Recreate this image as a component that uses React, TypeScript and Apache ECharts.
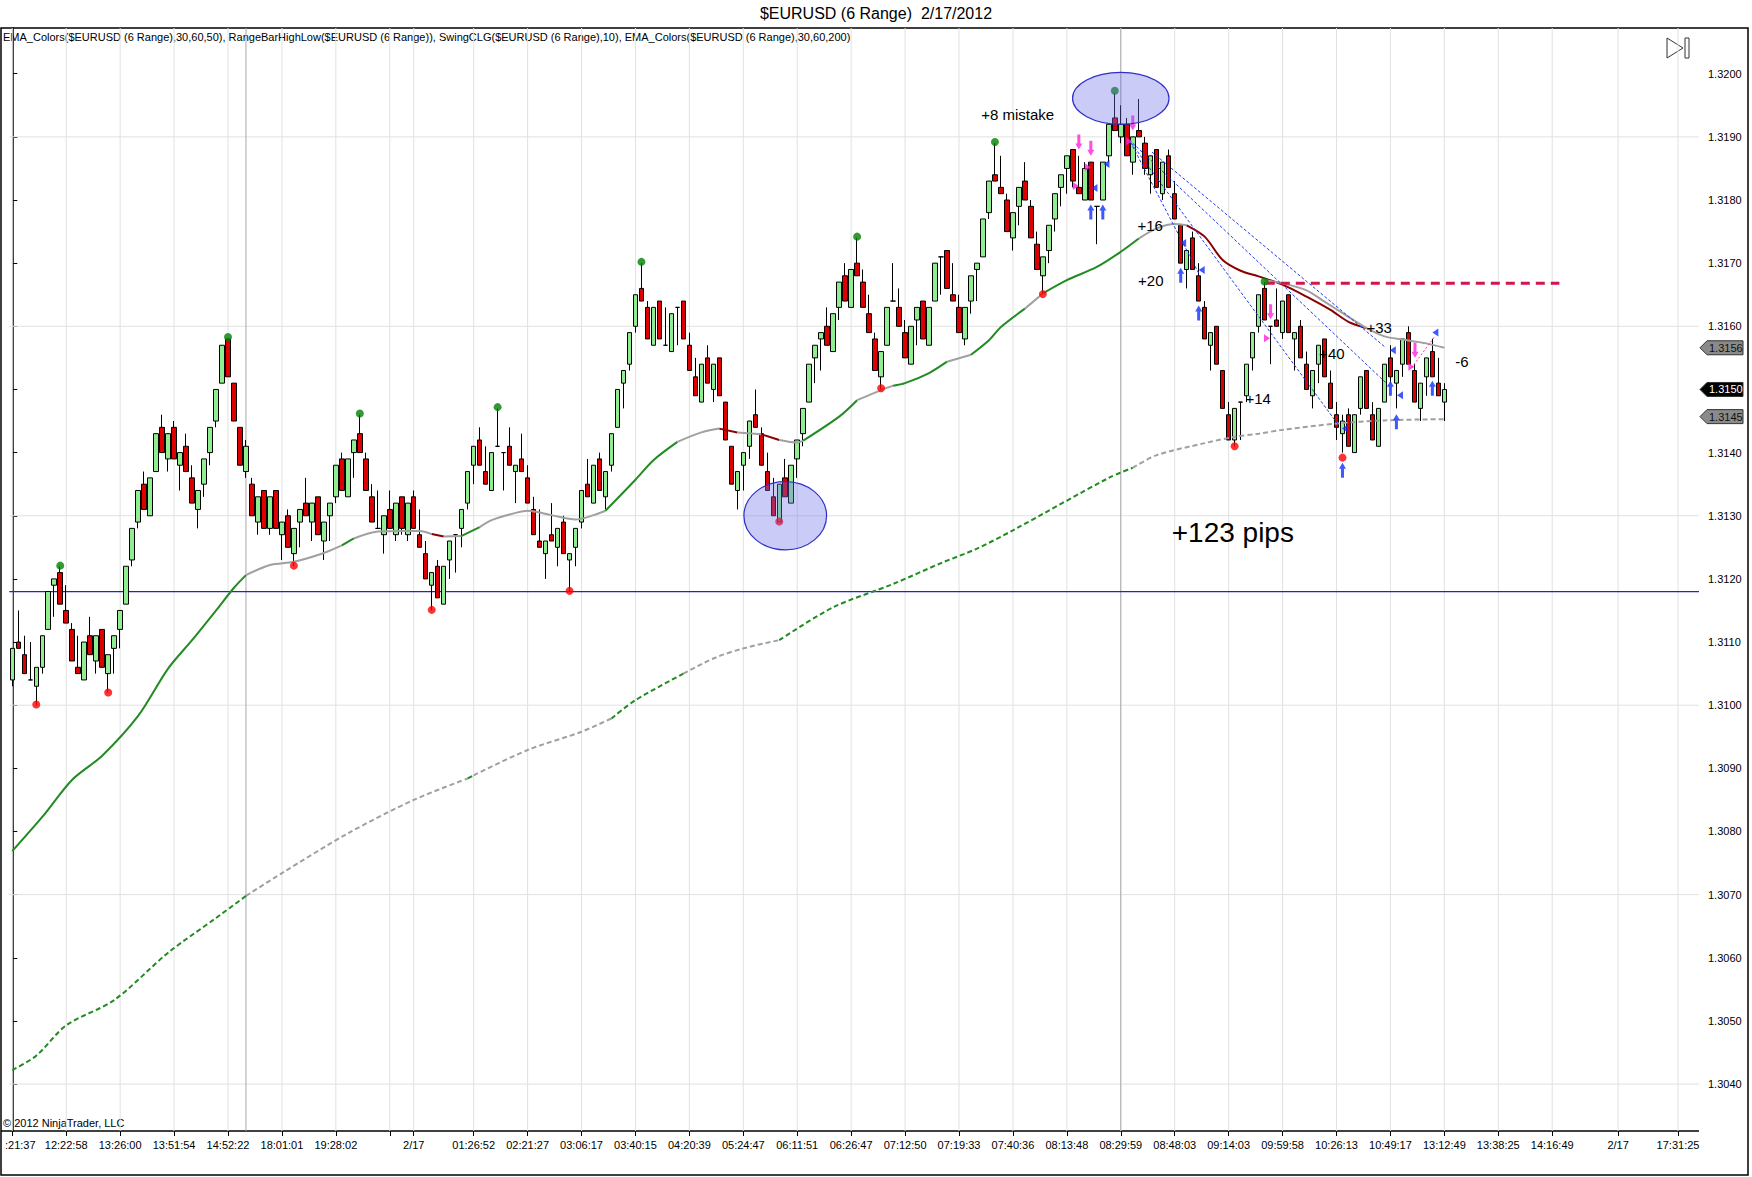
import React, { useEffect, useRef } from "react";
import * as echarts from "echarts";

// ---------- candles (range bars) ----------
const openP = [
1.3104,1.3110,1.3108,1.3104,1.3103,1.3106,1.3112,1.3119,1.3121,1.3115,
1.3112,1.3106,1.3104,1.3111,1.3107,1.3112,1.3105,1.3109,1.3112,1.3116,
1.3123,1.3129,1.3135,1.3130,1.3137,1.3144,1.3139,1.3144,1.3138,1.3141,
1.3136,1.3131,1.3135,1.3140,1.3145,1.3151,1.3158,1.3151,1.3144,1.3137,
1.3135,1.3129,1.3134,1.3128,1.3134,1.3127,1.3130,1.3124,1.3129,1.3132,
1.3129,1.3133,1.3126,1.3130,1.3133,1.3139,1.3133,1.3140,1.3143,1.3139,
1.3133,1.3128,1.3127,1.3131,1.3127,1.3133,1.3127,1.3133,1.3127,1.3124,
1.3119,1.3122,1.3116,1.3123,1.3127,1.3128,1.3132,1.3138,1.3142,1.3137,
1.3134,1.3141,1.3140,1.3141,1.3137,1.3139,1.3136,1.3131,1.3126,1.3124,
1.3127,1.3125,1.3129,1.3123,1.3125,1.3129,1.3135,1.3132,1.3139,1.3133,
1.3138,1.3144,1.3151,1.3154,1.3160,1.3166,1.3163,1.3157,1.3164,1.3157,
1.3156,1.3163,1.3164,1.3157,1.3152,1.3148,1.3155,1.3150,1.3155,1.3148,
1.3141,1.3134,1.3138,1.3141,1.3146,1.3143,1.3137,1.3133,1.3129,1.3136,
1.3132,1.3139,1.3143,1.3148,1.3155,1.3158,1.3160,1.3156,1.3163,1.3168,
1.3163,1.3170,1.3167,1.3162,1.3158,1.3152,1.3157,1.3164,1.3163,1.3159,
1.3154,1.3161,1.3164,1.3157,1.3164,1.3171,1.3172,1.3165,1.3163,1.3158,
1.3164,1.3169,1.3171,1.3178,1.3184,1.3182,1.3180,1.3174,1.3179,1.3183,
1.3179,1.3173,1.3168,1.3172,1.3177,1.3182,1.3185,1.3188,1.3182,1.3180,
1.3186,1.3179,1.3180,1.3187,1.3193,1.3190,1.3192,1.3186,1.3191,1.3189,
1.3184,1.3188,1.3181,1.3187,1.3181,1.3176,1.3169,1.3174,1.3168,1.3163,
1.3157,1.3160,1.3153,1.3146,1.3142,1.3148,1.3149,1.3155,1.3160,1.3166,
1.3160,1.3161,1.3159,1.3165,1.3158,1.3160,1.3154,1.3149,1.3154,1.3158,
1.3151,1.3146,1.3143,1.3146,1.3140,1.3147,1.3153,1.3146,1.3141,1.3148,
1.3155,1.3151,1.3154,1.3159,1.3153,1.3147,1.3152,1.3156,1.3151,1.3148];

const highP = [
1.3109,1.3115,1.3111,1.3110,1.3106,1.3111,1.3118,1.3120,1.3122,1.3119,
1.3113,1.3111,1.3110,1.3114,1.3111,1.3112,1.3108,1.3111,1.3115,1.3122,
1.3128,1.3134,1.3137,1.3136,1.3143,1.3146,1.3143,1.3145,1.3140,1.3143,
1.3138,1.3134,1.3139,1.3144,1.3150,1.3157,1.3158,1.3151,1.3144,1.3142,
1.3136,1.3133,1.3134,1.3133,1.3134,1.3129,1.3131,1.3128,1.3131,1.3136,
1.3132,1.3133,1.3129,1.3132,1.3138,1.3140,1.3139,1.3142,1.3146,1.3140,
1.3135,1.3134,1.3130,1.3134,1.3132,1.3133,1.3132,1.3134,1.3131,1.3126,
1.3121,1.3123,1.3122,1.3126,1.3127,1.3131,1.3137,1.3141,1.3144,1.3141,
1.3140,1.3147,1.3140,1.3144,1.3138,1.3143,1.3138,1.3133,1.3131,1.3126,
1.3132,1.3128,1.3130,1.3124,1.3128,1.3134,1.3139,1.3138,1.3140,1.3137,
1.3143,1.3150,1.3153,1.3159,1.3165,1.3170,1.3164,1.3163,1.3164,1.3163,
1.3162,1.3163,1.3164,1.3159,1.3155,1.3154,1.3157,1.3154,1.3155,1.3148,
1.3141,1.3137,1.3140,1.3145,1.3150,1.3144,1.3140,1.3136,1.3135,1.3139,
1.3138,1.3142,1.3147,1.3154,1.3157,1.3159,1.3163,1.3162,1.3167,1.3170,
1.3169,1.3174,1.3169,1.3165,1.3159,1.3156,1.3163,1.3170,1.3166,1.3161,
1.3160,1.3163,1.3164,1.3163,1.3170,1.3171,1.3172,1.3170,1.3165,1.3163,
1.3168,1.3170,1.3177,1.3183,1.3189,1.3187,1.3181,1.3178,1.3182,1.3186,
1.3180,1.3175,1.3171,1.3176,1.3181,1.3184,1.3187,1.3188,1.3187,1.3186,
1.3186,1.3179,1.3186,1.3192,1.3197,1.3195,1.3193,1.3190,1.3196,1.3190,
1.3187,1.3188,1.3186,1.3188,1.3183,1.3176,1.3172,1.3175,1.3170,1.3164,
1.3159,1.3160,1.3153,1.3148,1.3147,1.3148,1.3154,1.3159,1.3165,1.3167,
1.3160,1.3166,1.3164,1.3165,1.3159,1.3161,1.3156,1.3153,1.3157,1.3158,
1.3153,1.3148,1.3146,1.3147,1.3146,1.3152,1.3153,1.3148,1.3147,1.3154,
1.3157,1.3153,1.3158,1.3160,1.3154,1.3151,1.3155,1.3158,1.3155,1.3151];

const lowP = [
1.3103,1.3109,1.3105,1.3104,1.3100,1.3105,1.3112,1.3114,1.3116,1.3113,
1.3107,1.3105,1.3104,1.3108,1.3105,1.3106,1.3102,1.3105,1.3109,1.3116,
1.3122,1.3128,1.3131,1.3130,1.3137,1.3140,1.3137,1.3139,1.3134,1.3137,
1.3132,1.3128,1.3133,1.3138,1.3144,1.3151,1.3152,1.3145,1.3138,1.3136,
1.3130,1.3127,1.3128,1.3127,1.3128,1.3123,1.3125,1.3122,1.3125,1.3130,
1.3126,1.3127,1.3123,1.3126,1.3132,1.3134,1.3133,1.3136,1.3140,1.3134,
1.3129,1.3128,1.3124,1.3128,1.3126,1.3127,1.3126,1.3128,1.3125,1.3120,
1.3115,1.3117,1.3116,1.3120,1.3121,1.3125,1.3131,1.3135,1.3138,1.3135,
1.3134,1.3141,1.3134,1.3138,1.3132,1.3137,1.3132,1.3127,1.3125,1.3120,
1.3126,1.3122,1.3124,1.3118,1.3122,1.3128,1.3133,1.3132,1.3134,1.3131,
1.3137,1.3144,1.3147,1.3153,1.3159,1.3164,1.3158,1.3157,1.3158,1.3157,
1.3156,1.3157,1.3158,1.3153,1.3149,1.3148,1.3151,1.3148,1.3149,1.3142,
1.3135,1.3131,1.3134,1.3139,1.3144,1.3138,1.3134,1.3130,1.3129,1.3133,
1.3132,1.3136,1.3141,1.3148,1.3151,1.3153,1.3157,1.3156,1.3161,1.3164,
1.3163,1.3168,1.3163,1.3159,1.3153,1.3150,1.3157,1.3164,1.3160,1.3155,
1.3154,1.3157,1.3158,1.3157,1.3164,1.3165,1.3166,1.3164,1.3159,1.3157,
1.3162,1.3164,1.3171,1.3177,1.3183,1.3181,1.3175,1.3172,1.3176,1.3180,
1.3174,1.3169,1.3165,1.3170,1.3175,1.3179,1.3181,1.3182,1.3181,1.3180,
1.3180,1.3173,1.3180,1.3186,1.3191,1.3189,1.3187,1.3184,1.3190,1.3184,
1.3181,1.3182,1.3180,1.3182,1.3177,1.3170,1.3166,1.3169,1.3164,1.3158,
1.3153,1.3154,1.3147,1.3142,1.3141,1.3142,1.3148,1.3153,1.3159,1.3161,
1.3154,1.3160,1.3158,1.3159,1.3153,1.3155,1.3150,1.3147,1.3151,1.3152,
1.3147,1.3142,1.3140,1.3141,1.3140,1.3146,1.3147,1.3142,1.3141,1.3148,
1.3151,1.3147,1.3152,1.3154,1.3148,1.3145,1.3149,1.3152,1.3149,1.3145];

const closeP = [
1.3109,1.3109,1.3105,1.3104,1.3106,1.3111,1.3118,1.3120,1.3116,1.3113,
1.3107,1.3105,1.3110,1.3108,1.3111,1.3106,1.3108,1.3111,1.3115,1.3122,
1.3128,1.3134,1.3131,1.3136,1.3143,1.3140,1.3143,1.3139,1.3140,1.3137,
1.3132,1.3134,1.3139,1.3144,1.3150,1.3157,1.3152,1.3145,1.3138,1.3141,
1.3130,1.3133,1.3128,1.3133,1.3128,1.3129,1.3125,1.3128,1.3131,1.3130,
1.3132,1.3127,1.3129,1.3132,1.3138,1.3134,1.3139,1.3142,1.3140,1.3134,
1.3129,1.3128,1.3130,1.3128,1.3132,1.3128,1.3132,1.3128,1.3125,1.3120,
1.3121,1.3117,1.3122,1.3126,1.3127,1.3131,1.3137,1.3141,1.3138,1.3135,
1.3140,1.3141,1.3140,1.3138,1.3138,1.3137,1.3132,1.3127,1.3125,1.3126,
1.3126,1.3128,1.3124,1.3124,1.3128,1.3134,1.3133,1.3138,1.3134,1.3137,
1.3143,1.3150,1.3153,1.3159,1.3165,1.3164,1.3158,1.3163,1.3158,1.3157,
1.3162,1.3163,1.3158,1.3153,1.3149,1.3154,1.3151,1.3154,1.3149,1.3142,
1.3135,1.3137,1.3140,1.3145,1.3144,1.3138,1.3134,1.3130,1.3135,1.3133,
1.3138,1.3142,1.3147,1.3154,1.3157,1.3159,1.3157,1.3162,1.3167,1.3164,
1.3169,1.3168,1.3163,1.3159,1.3153,1.3156,1.3163,1.3164,1.3160,1.3155,
1.3160,1.3163,1.3158,1.3163,1.3170,1.3171,1.3166,1.3164,1.3159,1.3163,
1.3168,1.3170,1.3177,1.3183,1.3183,1.3181,1.3175,1.3178,1.3182,1.3180,
1.3174,1.3169,1.3171,1.3176,1.3181,1.3184,1.3187,1.3183,1.3181,1.3185,
1.3180,1.3179,1.3186,1.3192,1.3191,1.3192,1.3187,1.3190,1.3190,1.3185,
1.3187,1.3182,1.3186,1.3182,1.3177,1.3170,1.3172,1.3169,1.3164,1.3158,
1.3159,1.3154,1.3147,1.3142,1.3147,1.3148,1.3154,1.3159,1.3165,1.3161,
1.3160,1.3160,1.3164,1.3159,1.3159,1.3155,1.3150,1.3153,1.3157,1.3152,
1.3147,1.3144,1.3145,1.3141,1.3146,1.3152,1.3147,1.3142,1.3147,1.3154,
1.3152,1.3153,1.3158,1.3154,1.3148,1.3151,1.3155,1.3152,1.3149,1.3150];

// ---------- time axis ----------
const SLOTS = 282; // bar slots visible on the time axis (incl. empty right margin)
const tickBars = [1,10,19,28,37,46,55,64,68,78,87,96,105,114,123,132,141,150,159,168,177,186,195,204,213,222,231,240,249,258,269,279];
const tickLabels = [":21:37","12:22:58","13:26:00","13:51:54","14:52:22","18:01:01","19:28:02","","2/17","01:26:52","02:21:27","03:06:17","03:40:15","04:20:39","05:24:47","06:11:51","06:26:47","07:12:50","07:19:33","07:40:36","08:13:48","08:29:59","08:48:03","09:14:03","09:59:58","10:26:13","10:49:17","13:12:49","13:38:25","14:16:49","2/17","17:31:25"];
const sessionLineBars = [40, 186];

// ---------- price axis ----------
const yMin = 1.303257;
const yMax = 1.320724;
const priceTicks = [1.304,1.305,1.306,1.307,1.308,1.309,1.31,1.311,1.312,1.313,1.314,1.315,1.316,1.317,1.318,1.319,1.32];
const priceGrid = [1.304,1.307,1.31,1.313,1.316,1.319];

// ---------- EMA 50 (solid, colour-coded: g rising, y flat, r falling) ----------
const ema50Bars = [1,6,11,16,22,27,31,35,38,40,44,48,53,56,58,62,66,69,71,73,76,79,81,84,87,91,95,98,100,105,108,112,116,119,122,126,129,132,133,139,142,146,148,150,154,157,161,164,166,170,173,177,182,186,189,192,195,197,200,203,206,209,213,217,221,224,227,230,233,237,240];
const ema50Vals = [1.30769,1.30823,1.30882,1.30920,1.30983,1.31058,1.31103,1.31150,1.31186,1.31206,1.31222,1.31227,1.31241,1.31253,1.31264,1.31275,1.31276,1.31276,1.31271,1.31267,1.31268,1.31282,1.31293,1.31302,1.31308,1.31301,1.31294,1.31301,1.31308,1.31357,1.31388,1.31417,1.31432,1.31438,1.31432,1.31429,1.31420,1.31416,1.31419,1.31457,1.31483,1.31499,1.31506,1.31510,1.31526,1.31544,1.31555,1.31578,1.31599,1.31628,1.31652,1.31673,1.31694,1.31718,1.31739,1.31755,1.31762,1.31760,1.31742,1.31705,1.31688,1.31679,1.31666,1.31647,1.31626,1.31607,1.31597,1.31584,1.31579,1.31573,1.31566];
const ema50CodeList = "gggggggggy" + "yyygyyyyry" + "gyyyyyyygg" + "gyyryryygg" + "yygggygggy" + "ggggyyyrrr" + "rrrrrryyyy" + "y";

// ---------- EMA 200 (dashed, colour-coded) ----------
const ema200Bars = [1,5,10,18,27,35,40,46,57,68,77,78,87,96,101,105,113,118,123,129,138,148,156,162,168,184,188,192,200,205,209,213,222,230,240];
const ema200Vals = [1.30422,1.30445,1.30493,1.30533,1.30608,1.30663,1.30698,1.30734,1.30797,1.30850,1.30884,1.30889,1.30929,1.30958,1.30979,1.31008,1.31050,1.31074,1.31090,1.31103,1.31155,1.31192,1.31225,1.31248,1.31277,1.31360,1.31376,1.31396,1.31415,1.31425,1.31430,1.31436,1.31446,1.31451,1.31453];
const ema200CodeList = "gggggg" + "yyyy" + "g" + "yyy" + "gg" + "yyy" + "gggggg" + "g" + "yyyyyyyyy";

// second grey curve from the last swing high
const greyCurveBars = [210,213,217,220,224,227];
const greyCurveVals = [1.31673,1.31668,1.31657,1.31639,1.31615,1.31597];

// ---------- drawn objects ----------
const supportLevel = 1.3118;
const resistBars = [210.2, 259.2];
const resistLevel = 1.31668;
const trendStartBars = [187.6, 187.3, 188.0, 191.2];
const trendStartVals = [1.31892, 1.31896, 1.31890, 1.31876];
const trendEndBars = [199.0, 222.3, 230.3, 230.0];
const trendEndVals = [1.31684, 1.31444, 1.31510, 1.31568];
const pinkLineBars = [234.5, 238.4];
const pinkLineVals = [1.31534, 1.31584];

const ellipseBars = [130, 186];
const ellipseVals = [1.31300, 1.31961];
const ellipseHalfBars = [6.9, 8.05];
const ellipseHalfPrice = [0.00054, 0.00041];

// swing points
const swingHighBars = [9,37,59,82,106,142,165,185,210];
const swingHighVals = [1.31221,1.31583,1.31462,1.31472,1.31702,1.31742,1.31892,1.31973,1.31671];
const swingLowBars = [5,17,48,71,94,129,146,173,205,223];
const swingLowVals = [1.31001,1.31020,1.31221,1.31151,1.31181,1.31291,1.31502,1.31651,1.31410,1.31392];

// signal arrows / markers
const upArrowBars = [181,183,196,199,223,231,232,238];
const upArrowVals = [1.31781,1.31781,1.31681,1.31621,1.31372,1.31502,1.31449,1.31502];
const downArrowBars = [179,181,188,211,235.1];
const downArrowVals = [1.31892,1.31882,1.31922,1.31623,1.31562];
const rightTriBars = [178.5,180.5,187.4,210.4,234.5];
const rightTriVals = [1.31822,1.31852,1.31893,1.31581,1.31536];
const leftTriBars = [181.6,183.6,196.4,199.5,223.4,231.4,232.6,238.5];
const leftTriVals = [1.31819,1.31857,1.31732,1.31689,1.31438,1.31562,1.31491,1.31590];

// text annotations
const annTexts = ["+8 mistake","+16","+20","+14","+40","+33","-6","+123 pips"];
const annBars = [168.8,190.9,191.0,206.8,219.1,227.0,241.8,204.7];
const annVals = [1.31936,1.31760,1.31672,1.31486,1.31557,1.31598,1.31544,1.31273];
const annAlign = ["center","center","center","left","left","left","left","center"];
const annSize = [15,15,15,15,15,15,15,28];

// price badges on the axis
const badgeVals = [1.31566, 1.3150, 1.31457];
const badgeTexts = ["1.3156", "1.3150", "1.3145"];
const badgeFill = ["#8a8a8a", "#000000", "#8a8a8a"];
const badgeInk = ["#111111", "#ffffff", "#111111"];

const FONT = '"Liberation Sans", Arial, Helvetica, sans-serif';
const COLORS: Record<string, string> = { g: "#228b22", y: "#a0a0a0", r: "#8b0000" };

function segments(bars: number[], vals: number[], codes: string) {
  const out: { code: string; pts: number[][] }[] = [];
  let cur: { code: string; pts: number[][] } | null = null;
  for (let i = 0; i < bars.length - 1; i++) {
    const c = codes[i];
    if (!cur || cur.code !== c) {
      cur = { code: c, pts: [[bars[i] - 1, vals[i]]] };
      out.push(cur);
    }
    cur.pts.push([bars[i + 1] - 1, vals[i + 1]]);
  }
  return out;
}

function line(data: number[][], color: string, width: number, type: any, z: number, smooth: any = false) {
  return {
    type: "line", xAxisIndex: 1, yAxisIndex: 0, data, symbol: "none", smooth, silent: true,
    lineStyle: { color, width, type }, z, animation: false,
  };
}

function buildOption() {
  const tickIdx = new Set(tickBars.map((b) => b - 1));
  const labelMap = new Map<number, string>();
  tickBars.forEach((b, i) => { if (tickLabels[i]) labelMap.set(b - 1, tickLabels[i]); });
  const cats = Array.from({ length: SLOTS }, (_, i) => String(i));
  const xLo = -0.5, xHi = SLOTS - 0.5;

  const series: any[] = [];
  // grid lines
  priceGrid.forEach((v) => series.push(line([[xLo, v], [xHi, v]], "#e1e1e1", 1, "solid", 0)));
  tickBars.forEach((b) => series.push(line([[b - 1, yMin], [b - 1, yMax]], "#e1e1e1", 1, "solid", 0)));
  sessionLineBars.forEach((b) => series.push(line([[b - 1, yMin], [b - 1, yMax]], "#a9a9a9", 1, "solid", 0)));
  // support line
  series.push(line([[xLo, supportLevel], [xHi, supportLevel]], "#2323c8", 1.2, "solid", 1));

  // candles
  series.push({
    type: "candlestick", xAxisIndex: 0, yAxisIndex: 0, barWidth: 5, z: 2, silent: true,
    data: openP.map((o, i) => [o, closeP[i], lowP[i], highP[i]]),
    itemStyle: { color: "#90ee90", color0: "#dc0000", borderColor: "#000", borderColor0: "#000", borderColorDoji: "#000", borderWidth: 1 },
  });

  // EMAs
  segments(ema200Bars, ema200Vals, ema200CodeList).forEach((s) =>
    series.push(line(s.pts, COLORS[s.code], 2, [5, 3], 3, 0.3)));
  segments(ema50Bars, ema50Vals, ema50CodeList).forEach((s) =>
    series.push(line(s.pts, COLORS[s.code], 2, "solid", 3, 0.3)));
  series.push(line(greyCurveBars.map((b, i) => [b - 1, greyCurveVals[i]]), "#a0a0a0", 2, "solid", 3, 0.3));

  // trend lines
  trendStartBars.forEach((b, i) =>
    series.push(line([[b - 1, trendStartVals[i]], [trendEndBars[i] - 1, trendEndVals[i]]], "#2438f0", 1, [3, 2], 4)));
  series.push(line(pinkLineBars.map((b, i) => [b - 1, pinkLineVals[i]]), "#ff3399", 1, [2, 2], 4));
  series.push(line(resistBars.map((b) => [b - 1, resistLevel]), "#d3154d", 3, [9, 6], 4));

  // swing dots
  series.push({
    type: "scatter", xAxisIndex: 1, yAxisIndex: 0, symbol: "circle", symbolSize: 8, z: 5, silent: true,
    itemStyle: { color: "#008000" }, data: swingHighBars.map((b, i) => [b - 1, swingHighVals[i]]),
  });
  series.push({
    type: "scatter", xAxisIndex: 1, yAxisIndex: 0, symbol: "circle", symbolSize: 8, z: 5, silent: true,
    itemStyle: { color: "#ff0000" }, data: swingLowBars.map((b, i) => [b - 1, swingLowVals[i]]),
  });

  // arrows
  series.push({
    type: "scatter", xAxisIndex: 1, yAxisIndex: 0, z: 6, silent: true,
    symbol: "path://M3.5,0 L7,6 L5,6 L5,15 L2,15 L2,6 L0,6 Z", symbolSize: [7, 15],
    itemStyle: { color: "#1030ff" }, data: upArrowBars.map((b, i) => [b - 1, upArrowVals[i]]),
  });
  series.push({
    type: "scatter", xAxisIndex: 1, yAxisIndex: 0, z: 6, silent: true,
    symbol: "path://M2,0 L5,0 L5,9 L7,9 L3.5,15 L0,9 L2,9 Z", symbolSize: [7, 15],
    itemStyle: { color: "#ff22dd" }, data: downArrowBars.map((b, i) => [b - 1, downArrowVals[i]]),
  });
  series.push({
    type: "scatter", xAxisIndex: 1, yAxisIndex: 0, z: 6, silent: true,
    symbol: "triangle", symbolRotate: 90, symbolSize: [8, 6],
    itemStyle: { color: "#1030ff" }, data: leftTriBars.map((b, i) => [b - 1, leftTriVals[i]]),
  });
  series.push({
    type: "scatter", xAxisIndex: 1, yAxisIndex: 0, z: 6, silent: true,
    symbol: "triangle", symbolRotate: -90, symbolSize: [8, 6],
    itemStyle: { color: "#ff22dd" }, data: rightTriBars.map((b, i) => [b - 1, rightTriVals[i]]),
  });

  // ellipses
  series.push({
    type: "custom", xAxisIndex: 1, yAxisIndex: 0, z: 7, silent: true,
    data: ellipseBars.map((b, i) => [b - 1, ellipseVals[i], ellipseHalfBars[i], ellipseHalfPrice[i]]),
    renderItem: (params: any, api: any) => {
      const c = api.coord([api.value(0), api.value(1)]);
      const e = api.coord([api.value(0) + api.value(2), api.value(1) + api.value(3)]);
      return {
        type: "ellipse",
        shape: { cx: c[0], cy: c[1], rx: Math.abs(e[0] - c[0]), ry: Math.abs(c[1] - e[1]) },
        style: { fill: "rgba(110,110,235,0.36)", stroke: "#2f2fc8", lineWidth: 1.2 },
      };
    },
  });

  // annotations
  series.push({
    type: "custom", xAxisIndex: 1, yAxisIndex: 0, z: 8, silent: true,
    data: annBars.map((b, i) => [b - 1, annVals[i]]),
    renderItem: (params: any, api: any) => {
      const i = params.dataIndex;
      const p = api.coord([api.value(0), api.value(1)]);
      return {
        type: "text", x: p[0], y: p[1],
        style: { text: annTexts[i], font: `${annSize[i]}px ${FONT}`, fill: "#000", align: annAlign[i], verticalAlign: "middle" },
      };
    },
  });

  // price badges
  series.push({
    type: "custom", xAxisIndex: 1, yAxisIndex: 0, z: 9, silent: true, clip: false,
    data: badgeVals.map((v) => [xHi, v]),
    renderItem: (params: any, api: any) => {
      const i = params.dataIndex;
      const p = api.coord([api.value(0), api.value(1)]);
      const x0 = p[0] + 1, y = p[1];
      return {
        type: "group",
        children: [
          { type: "polygon", shape: { points: [[x0, y], [x0 + 7, y - 7], [x0 + 43, y - 7], [x0 + 43, y + 7], [x0 + 7, y + 7]] },
            style: { fill: badgeFill[i], stroke: "#333", lineWidth: 1 } },
          { type: "text", x: x0 + 9, y, style: { text: badgeTexts[i], font: `11px ${FONT}`, fill: badgeInk[i], align: "left", verticalAlign: "middle" } },
        ],
      };
    },
  });

  return {
    animation: false,
    backgroundColor: "#ffffff",
    grid: { left: 9.3, right: 53, top: 28, bottom: 46, containLabel: false },
    xAxis: [
      {
        type: "category", data: cats, boundaryGap: true, gridIndex: 0,
        axisLine: { show: false },
        axisTick: { show: true, alignWithLabel: true, length: 5, interval: (i: number) => tickIdx.has(i), lineStyle: { color: "#000" } },
        axisLabel: {
          show: true, margin: 8, fontSize: 11, fontFamily: FONT, color: "#000",
          interval: (i: number) => labelMap.has(i),
          formatter: (v: string) => {
            const t = labelMap.get(Number(v)) || "";
            return Number(v) === 0 ? `{a|${t}}` : t;
          },
          rich: { a: { fontSize: 11, fontFamily: FONT, color: "#000", padding: [0, 0, 0, 16] } },
        },
        splitLine: { show: false },
      },
      { type: "value", min: xLo, max: xHi, show: false, gridIndex: 0, splitLine: { show: false } },
    ],
    yAxis: [
      {
        type: "value", position: "right", min: yMin, max: yMax, scale: true,
        axisLine: { show: true, lineStyle: { color: "#000", width: 1.5 } },
        axisTick: { show: true, length: 5, customValues: priceTicks, lineStyle: { color: "#000" } },
        axisLabel: { show: true, customValues: priceTicks, margin: 9, fontSize: 11, fontFamily: FONT, color: "#000", formatter: (v: number) => v.toFixed(4) },
        splitLine: { show: false },
      },
    ],
    series,
    graphic: [
      { type: "text", x: 876, y: 13, style: { text: "$EURUSD (6 Range)  2/17/2012", font: `16px ${FONT}`, fill: "#000", align: "center", verticalAlign: "middle", textAlign: "center", textVerticalAlign: "middle" } },
      { type: "text", x: 3, y: 37, style: { text: "EMA_Colors($EURUSD (6 Range),30,60,50), RangeBarHighLow($EURUSD (6 Range)), SwingCLG($EURUSD (6 Range),10), EMA_Colors($EURUSD (6 Range),30,60,200)", font: `11px ${FONT}`, fill: "#000", align: "left", verticalAlign: "middle", textAlign: "left", textVerticalAlign: "middle" } },
      { type: "text", x: 3, y: 1123, style: { text: "© 2012 NinjaTrader, LLC", font: `11px ${FONT}`, fill: "#000", align: "left", verticalAlign: "middle", textAlign: "left", textVerticalAlign: "middle" } },
      { type: "rect", shape: { x: 1, y: 28, width: 1747, height: 1147 }, style: { fill: "none", stroke: "#000", lineWidth: 1.5 }, silent: true },
      { type: "line", shape: { x1: 1, y1: 1131, x2: 1699, y2: 1131 }, style: { stroke: "#000", lineWidth: 1.5 }, silent: true },
      { type: "polygon", shape: { points: [[1667, 38], [1683, 48], [1667, 58]] }, style: { fill: "#fff", stroke: "#333", lineWidth: 1 }, silent: true },
      { type: "rect", shape: { x: 1685, y: 38, width: 4, height: 20 }, style: { fill: "#fff", stroke: "#333", lineWidth: 1 }, silent: true },
    ],
  };
}

export default function App() {
  const ref = useRef<HTMLDivElement>(null);
  useEffect(() => {
    document.body.style.margin = "0";
    const chart = echarts.init(ref.current!, null, { renderer: "svg" });
    chart.setOption(buildOption() as any);
    return () => chart.dispose();
  }, []);
  return <div ref={ref} style={{ width: 1752, height: 1177, background: "#fff" }} />;
}
